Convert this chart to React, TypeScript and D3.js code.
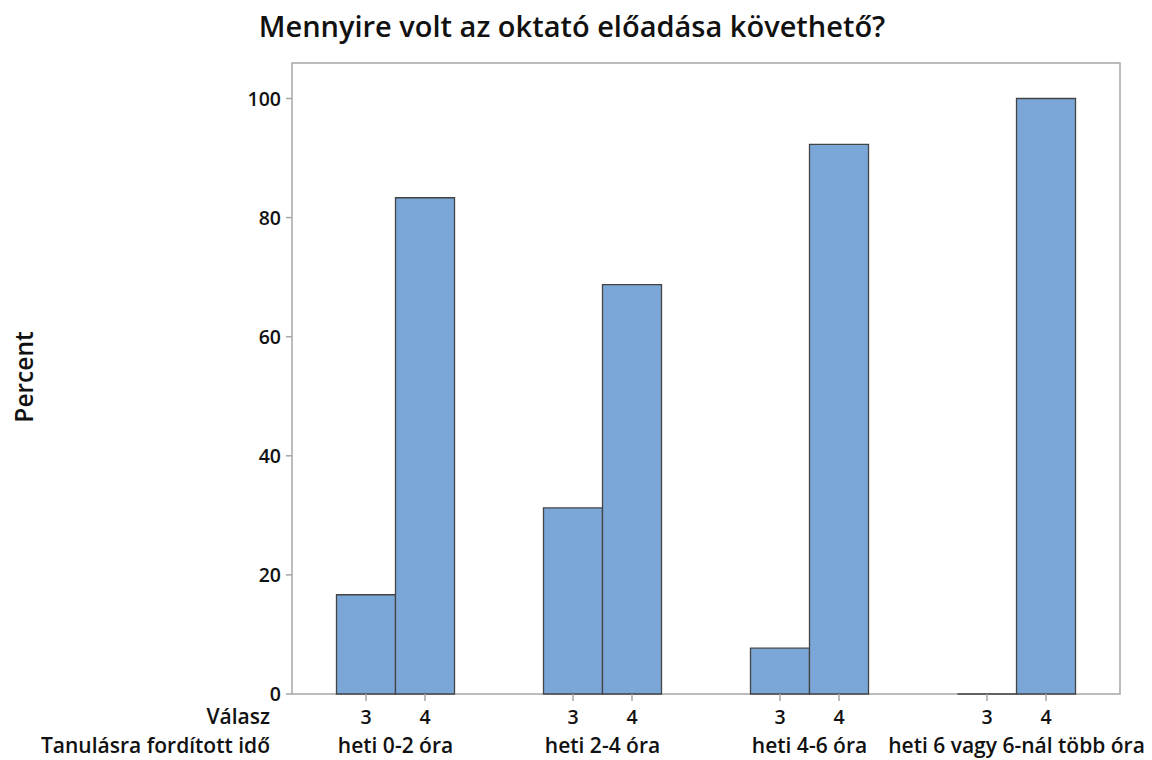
import React from "react";
import * as d3 from "d3";

const groups = ["heti 0-2 óra", "heti 2-4 óra", "heti 4-6 óra", "heti 6 vagy 6-nál több óra"];
const answers = ["3", "4"];
const values3 = [16.67, 31.25, 7.69, 0];
const values4 = [83.33, 68.75, 92.31, 100];
const yTicks = [0, 20, 40, 60, 80, 100];

const W = 1152, H = 760;
const left = 292, right = 1120, top = 63, bottom = 694;
const FONT = "'Open Sans', 'Noto Sans', sans-serif";
const TXT = "#111";

export default function App() {
  const x = d3.scaleBand<string>().domain(groups).range([left, right]).paddingInner(0).paddingOuter(0);
  const inner = d3.scaleBand<string>().domain(answers).range([0, x.bandwidth()]).paddingInner(0).paddingOuter(0.754);
  const y = d3.scaleLinear().domain([0, 100]).range([bottom, 98.5]);
  const series = [values3, values4];
  return (
    <svg width={W} height={H} style={{ display: "block", position: "absolute", left: 0, top: 0, background: "#fff" }} fontFamily={FONT} fontWeight={600}>
      <rect x={0} y={0} width={W} height={H} fill="#fff" />
      <text x={572} y={37} textAnchor="middle" fontSize={29} fill={TXT}>Mennyire volt az oktató előadása követhető?</text>
      <rect x={left} y={top} width={right - left} height={bottom - top} fill="none" stroke="#a6a6a6" strokeWidth={1.5} />
      {yTicks.map(t => (
        <g key={t}>
          <line x1={left - 6} x2={left} y1={y(t)} y2={y(t)} stroke="#a6a6a6" strokeWidth={1.5} />
          <text x={left - 11} y={y(t)} dy="0.36em" textAnchor="end" fontSize={19.5} fill={TXT}>{t}</text>
        </g>
      ))}
      <text transform={`translate(33,${377}) rotate(-90)`} textAnchor="middle" fontSize={24.5} fill={TXT}>Percent</text>
      {groups.map((g, gi) => (
        <g key={g} transform={`translate(${x(g)},0)`}>
          {answers.map((a, ai) => {
            const v = series[ai][gi];
            const bx = inner(a)!;
            const bw = inner.bandwidth();
            const p = d3.path();
            p.moveTo(bx, bottom);
            p.lineTo(bx, y(v));
            p.lineTo(bx + bw, y(v));
            p.lineTo(bx + bw, bottom);
            p.closePath();
            return (
              <g key={a}>
                <path d={p.toString()} fill="#7ba6d8" stroke="#444" strokeWidth={1.3} />
                <line x1={bx + bw / 2} x2={bx + bw / 2} y1={bottom} y2={bottom + 7} stroke="#a6a6a6" strokeWidth={1.5} />
                <text x={bx + bw / 2} y={724} textAnchor="middle" fontSize={19.5} fill={TXT}>{a}</text>
              </g>
            );
          })}
          <text x={x.bandwidth() / 2} y={753} textAnchor="middle" fontSize={21} fill={TXT}>{g}</text>
        </g>
      ))}
      <text x={270} y={724} textAnchor="end" fontSize={21} fill={TXT}>Válasz</text>
      <text x={270} y={753} textAnchor="end" fontSize={21} fill={TXT}>Tanulásra fordított idő</text>
    </svg>
  );
}
